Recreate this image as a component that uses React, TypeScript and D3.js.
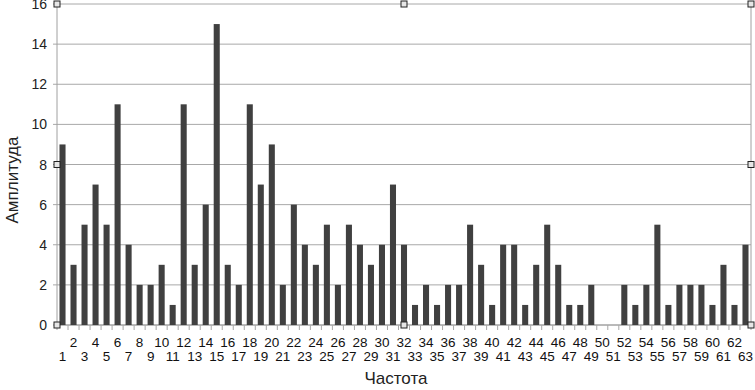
import * as d3 from "d3";

// frequency bins 1..63 and their amplitudes
const frequencies = d3.range(1, 64).map(String);
const amplitudes = [
  9, 3, 5, 7, 5, 11, 4, 2, 2, 3, 1, 11, 3, 6, 15, 3, 2, 11, 7, 9, 2, 6, 4, 3, 5,
  2, 5, 4, 3, 4, 7, 4, 1, 2, 1, 2, 2, 5, 3, 1, 4, 4, 1, 3, 5, 3, 1, 1, 2, 0, 0,
  2, 1, 2, 5, 1, 2, 2, 2, 1, 3, 1, 4,
];
const yTicks = [0, 2, 4, 6, 8, 10, 12, 14, 16];

const width = 755;
const height = 390;
const margin = { top: 4, right: 4, bottom: 65, left: 57 };
const font = "'Liberation Sans', Arial, sans-serif";

export default function App() {
  const innerW = width - margin.left - margin.right;
  const innerH = height - margin.top - margin.bottom;

  const x = d3
    .scaleBand()
    .domain(frequencies)
    .range([0, innerW])
    .paddingInner(0.45)
    .paddingOuter(0.225);
  const y = d3.scaleLinear().domain([0, 16]).range([innerH, 0]);

  const step = x.step();
  const boundaries = d3.range(0, frequencies.length + 1).map((i) => i * step);

  // excel-like selection handles on the plot area
  const handles = [
    [0, 0],
    [innerW / 2, 0],
    [innerW, 0],
    [0, innerH / 2],
    [innerW, innerH / 2],
    [0, innerH],
    [innerW / 2, innerH],
    [innerW, innerH],
  ];

  return (
    <svg
      width={width}
      height={height}
      style={{ position: "absolute", left: 0, top: 0, background: "#fff" }}
    >
      <g transform={`translate(${margin.left},${margin.top})`}>
        {yTicks.map((t) => (
          <g key={t}>
            <line
              x1={-4}
              x2={innerW}
              y1={y(t)}
              y2={y(t)}
              stroke="#a8a8a8"
              strokeWidth={1}
            />
            <text
              x={-10}
              y={y(t)}
              dy="0.36em"
              textAnchor="end"
              fontFamily={font}
              fontSize={14}
              fill="#222"
            >
              {t}
            </text>
          </g>
        ))}
        <line x1={0} x2={0} y1={0} y2={innerH} stroke="#a0a0a0" />
        <line x1={innerW} x2={innerW} y1={0} y2={innerH} stroke="#a0a0a0" />
        <line x1={0} x2={innerW} y1={innerH} y2={innerH} stroke="#a0a0a0" />
        {boundaries.map((b, i) => (
          <line
            key={i}
            x1={b}
            x2={b}
            y1={innerH}
            y2={innerH + 5}
            stroke="#a8a8a8"
          />
        ))}

        {frequencies.map((f, i) => (
          <rect
            key={f}
            x={x(f)}
            y={y(amplitudes[i])}
            width={x.bandwidth()}
            height={innerH - y(amplitudes[i])}
            fill="#404040"
          />
        ))}

        {frequencies.map((f, i) => (
          <text
            key={f}
            x={(x(f) ?? 0) + x.bandwidth() / 2}
            y={innerH + (i % 2 === 1 ? 22 : 36)}
            textAnchor="middle"
            fontFamily={font}
            fontSize={13.5}
            fill="#111"
          >
            {f}
          </text>
        ))}

        {handles.map(([hx, hy], i) => (
          <rect
            key={i}
            x={hx - 3}
            y={hy - 3}
            width={6}
            height={6}
            fill="#e6e6e6"
            stroke="#222"
            strokeWidth={1}
          />
        ))}
      </g>

      <text
        x={396}
        y={384}
        textAnchor="middle"
        fontFamily={font}
        fontSize={17}
        fill="#222"
      >
        Частота
      </text>
      <text
        transform={`translate(18,180) rotate(-90)`}
        textAnchor="middle"
        fontFamily={font}
        fontSize={17}
        fill="#222"
      >
        Амплитуда
      </text>
    </svg>
  );
}
